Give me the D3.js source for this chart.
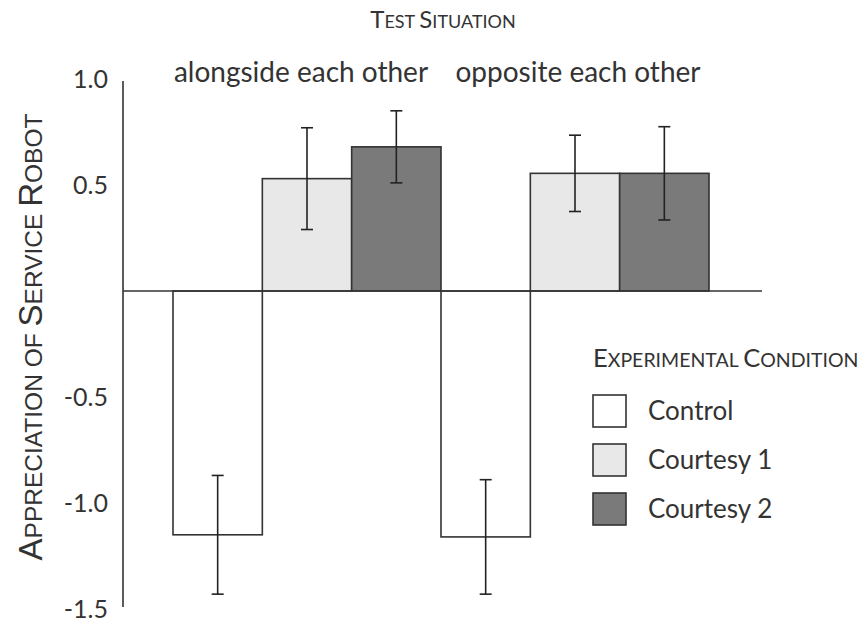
<!DOCTYPE html>
<html>
<head>
<meta charset="utf-8">
<script src="https://cdn.jsdelivr.net/npm/d3@7"></script>
<style>
  html, body { margin: 0; padding: 0; background: #fff; }
  svg { display: block; }
</style>
</head>
<body>
<svg id="chart" width="862" height="623"></svg>
<script>
// Appreciation of the service robot by test situation and experimental condition
const situations = ["alongside each other", "opposite each other"];
const conditions = ["Control", "Courtesy 1", "Courtesy 2"];
const meansAlongside = [-1.15, 0.53, 0.68];
const meansOpposite = [-1.16, 0.555, 0.555];
const errorsAlongside = [0.28, 0.24, 0.17];
const errorsOpposite = [0.27, 0.18, 0.22];
const yTicks = [1.0, 0.5, -0.5, -1.0, -1.5];

const fills = { "Control": "#ffffff", "Courtesy 1": "#e8e8e8", "Courtesy 2": "#7a7a7a" };
const ink = "#333333";
const labelFont = "Lato, 'Open Sans', sans-serif";
const titleFont = "'Liberation Sans', Arial, sans-serif";

const rows = [];
situations.forEach((s, i) => {
  const means = i === 0 ? meansAlongside : meansOpposite;
  const errs = i === 0 ? errorsAlongside : errorsOpposite;
  conditions.forEach((c, j) => rows.push({ situation: s, condition: c, mean: means[j], err: errs[j] }));
});

const svg = d3.select("#chart");

const y = d3.scaleLinear().domain([-1.5, 1.0]).range([609, 79]);
const x0 = d3.scaleBand().domain(situations).range([173, 709]).padding(0);
const x1 = d3.scaleBand().domain(conditions).range([0, x0.bandwidth()]).padding(0);
const axisX = 123;

// Y axis labels (no tick marks, plain hyphen for negatives) and a vertical line
const yAxis = d3.axisLeft(y).tickValues(yTicks).tickSize(0).tickPadding(15).tickFormat(d => d.toFixed(1));
const gy = svg.append("g").attr("transform", `translate(${axisX},0)`).call(yAxis);
gy.select(".domain").remove();
gy.selectAll("text")
  .attr("font-family", labelFont)
  .attr("font-size", 25)
  .attr("fill", ink);

svg.append("line")
  .attr("x1", axisX).attr("x2", axisX)
  .attr("y1", y(0.99)).attr("y2", y(-1.49))
  .attr("stroke", ink).attr("stroke-width", 1.6);

// Bars
const bars = svg.append("g");
bars.selectAll("rect")
  .data(rows)
  .join("rect")
  .attr("x", d => x0(d.situation) + x1(d.condition))
  .attr("width", x1.bandwidth())
  .attr("y", d => y(Math.max(0, d.mean)))
  .attr("height", d => Math.abs(y(d.mean) - y(0)))
  .attr("fill", d => fills[d.condition])
  .attr("stroke", ink)
  .attr("stroke-width", 1.6);

// Zero baseline
svg.append("line")
  .attr("x1", axisX).attr("x2", 762)
  .attr("y1", y(0)).attr("y2", y(0))
  .attr("stroke", ink).attr("stroke-width", 1.6);

// Error bars
const capHalf = 6;
const eb = svg.append("g").attr("stroke", "#222").attr("stroke-width", 1.6);
rows.forEach(d => {
  const cx = x0(d.situation) + x1(d.condition) + x1.bandwidth() / 2;
  const top = y(d.mean + d.err), bot = y(d.mean - d.err);
  eb.append("line").attr("x1", cx).attr("x2", cx).attr("y1", top).attr("y2", bot);
  eb.append("line").attr("x1", cx - capHalf).attr("x2", cx + capHalf).attr("y1", top).attr("y2", top);
  eb.append("line").attr("x1", cx - capHalf).attr("x2", cx + capHalf).attr("y1", bot).attr("y2", bot);
});

// Small-caps text built from tspans: capitals full size, the rest smaller uppercase
function smallCaps(sel, text, big, small) {
  text.split("").forEach(ch => {
    const isCap = ch !== " " && ch === ch.toUpperCase() && ch !== ch.toLowerCase();
    sel.append("tspan")
      .attr("font-size", isCap ? big : small)
      .text(ch === " " ? "\u00a0" : ch.toUpperCase());
  });
}

// Situation labels above each group
svg.append("g").selectAll("text")
  .data(situations)
  .join("text")
  .attr("x", d => x0(d) + x0.bandwidth() / 2)
  .attr("dx", (d, i) => (i === 0 ? -6 : 3))
  .attr("y", 82)
  .attr("text-anchor", "middle")
  .attr("font-family", labelFont)
  .attr("font-size", 28)
  .attr("fill", ink)
  .text(d => d);

// Top title
const t = svg.append("text")
  .attr("x", 443).attr("y", 28)
  .attr("text-anchor", "middle")
  .attr("font-family", labelFont)
  .attr("fill", ink);
smallCaps(t, "Test Situation", 24, 18);

// Y axis title
const yt = svg.append("text")
  .attr("transform", "translate(42,337) rotate(-90)")
  .attr("text-anchor", "middle")
  .attr("font-family", titleFont)
  .attr("fill", ink);
smallCaps(yt, "Appreciation of Service Robot", 33, 24.5);

// Legend
const lg = svg.append("g").attr("transform", "translate(593,0)");
const lt = lg.append("text").attr("x", 0).attr("y", 367)
  .attr("font-family", labelFont).attr("fill", ink);
smallCaps(lt, "Experimental Condition", 25.5, 19.5);

const legendY = d3.scalePoint().domain(conditions).range([411, 509]);
const items = lg.selectAll("g.item").data(conditions).join("g").attr("class", "item");
items.append("rect")
  .attr("x", 0).attr("y", d => legendY(d) - 16)
  .attr("width", 33).attr("height", 32)
  .attr("fill", d => fills[d])
  .attr("stroke", ink).attr("stroke-width", 1.6);
items.append("text")
  .attr("x", 55).attr("y", d => legendY(d))
  .attr("dy", "0.35em")
  .attr("font-family", labelFont)
  .attr("font-size", 26)
  .attr("fill", ink)
  .text(d => d);
</script>
</body>
</html>
